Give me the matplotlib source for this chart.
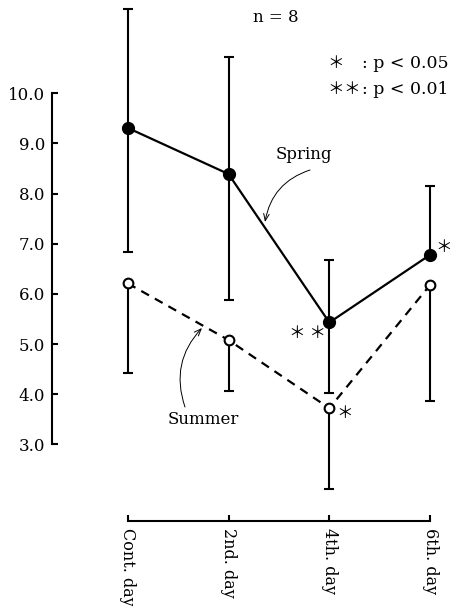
import numpy as np
import matplotlib
matplotlib.use("Agg")
import matplotlib.pyplot as plt

plt.rcParams['font.family'] = ['DejaVu Serif', 'Noto Sans CJK JP']

# ---- data ----
days = ["Cont. day", "2nd. day", "4th. day", "6th. day"]
spring_mean = [9.31, 8.39, 5.43, 6.78]
spring_hi = [11.68, 10.72, 6.68, 8.16]
spring_lo = [6.84, 5.88, 4.02, np.nan]
summer_mean = [6.21, 5.08, 3.72, 6.18]
summer_lo = [4.42, 4.07, 2.12, 3.86]
yticks = [3.0, 4.0, 5.0, 6.0, 7.0, 8.0, 9.0, 10.0]

W, H = 451, 606
fig = plt.figure(figsize=(W / 100, H / 100), dpi=100)
fig.patch.set_facecolor('white')
ax = fig.add_axes([52 / W, (H - 521) / H, (W - 52) / W, 521 / H])
ax.set_facecolor('none')

x = np.arange(len(days))
sm = np.array(spring_mean); sh = np.array(spring_hi); sl = np.array(spring_lo)
um = np.array(summer_mean); ul = np.array(summer_lo)

ekw = dict(fmt='none', ecolor='black', elinewidth=1.5, capsize=3.6, capthick=1.5, zorder=2)
# Spring error bars (up and down where visible)
ax.errorbar(x, sm, yerr=[np.zeros_like(sm), sh - sm], **ekw)
m = ~np.isnan(sl)
ax.errorbar(x[m], sm[m], yerr=[sm[m] - sl[m], np.zeros(m.sum())], **ekw)
# Summer error bars (down only)
ax.errorbar(x, um, yerr=[um - ul, np.zeros_like(um)], **ekw)

# lines
ax.plot(x, sm, color='black', lw=1.6, zorder=3)
ax.plot(x, um, color='black', lw=1.6, ls=(0, (4, 3)), zorder=3)
# markers
ax.plot(x, sm, 'o', color='black', ms=8.5, zorder=4)
ax.plot(x, um, 'o', mfc='white', mec='black', mew=1.5, ms=7, zorder=4)

ax.set_xlim(-0.751, 3.207)
ax.set_ylim(1.472, 11.860)

for s in ['top', 'right']:
    ax.spines[s].set_visible(False)
ax.spines['left'].set_bounds(3, 10)
ax.spines['bottom'].set_bounds(0, 3)
ax.spines['left'].set_linewidth(1.5)
ax.spines['bottom'].set_linewidth(1.5)

ax.set_yticks(yticks)
ax.set_yticklabels([f"{v:.1f}" for v in yticks])
ax.tick_params(axis='y', direction='in', length=4, width=1.5, pad=5, labelsize=12)
ax.set_xticks(x)
ax.set_xticklabels(days)
ax.tick_params(axis='x', direction='in', length=4.5, width=1.5, pad=5, labelsize=11.5,
               labelrotation=270)

cjk = ['Noto Sans CJK JP']
# significance marks next to points
ax.annotate("＊ ＊", xy=(x[2], sm[2]), xytext=(-16, -8), textcoords='offset points',
            ha='center', va='center', fontsize=12, family=cjk)
ax.annotate("＊", xy=(x[2], um[2]), xytext=(11, -3.5), textcoords='offset points',
            ha='center', va='center', fontsize=12, family=cjk)
ax.annotate("＊", xy=(x[3], sm[3]), xytext=(9.5, 5.5), textcoords='offset points',
            ha='center', va='center', fontsize=12, family=cjk)

def fp(px, py):
    return (px, H - py)

fig.text(253 / W, 1 - 17 / H, "n = 8", ha='left', va='center', fontsize=12)
# legend rows
fig.text(336 / W, 1 - 64 / H, "＊", ha='center', va='center', fontsize=12, family=cjk)
fig.text(336 / W, 1 - 89 / H, "＊", ha='center', va='center', fontsize=12, family=cjk)
fig.text(352 / W, 1 - 89 / H, "＊", ha='center', va='center', fontsize=12, family=cjk)
fig.text(362 / W, 1 - 64 / H, ": p < 0.05", ha='left', va='center', fontsize=12.5)
fig.text(362 / W, 1 - 89 / H, ": p < 0.01", ha='left', va='center', fontsize=12.5)

fig.text(276 / W, 1 - 155 / H, "Spring", ha='left', va='center', fontsize=12)
fig.text(168 / W, 1 - 419 / H, "Summer", ha='left', va='center', fontsize=12)

arr = dict(arrowstyle='->,head_length=0.5,head_width=0.2', lw=0.7, color='black',
           shrinkA=0, shrinkB=0)
ax.annotate('', xy=fp(265, 222), xycoords='figure pixels', xytext=fp(310, 170),
            textcoords='figure pixels',
            arrowprops=dict(connectionstyle='arc3,rad=0.3', **arr))
ax.annotate('', xy=fp(202, 328), xycoords='figure pixels', xytext=fp(185, 407),
            textcoords='figure pixels',
            arrowprops=dict(connectionstyle='arc3,rad=-0.3', **arr))

fig.savefig('out.png', dpi=100)
